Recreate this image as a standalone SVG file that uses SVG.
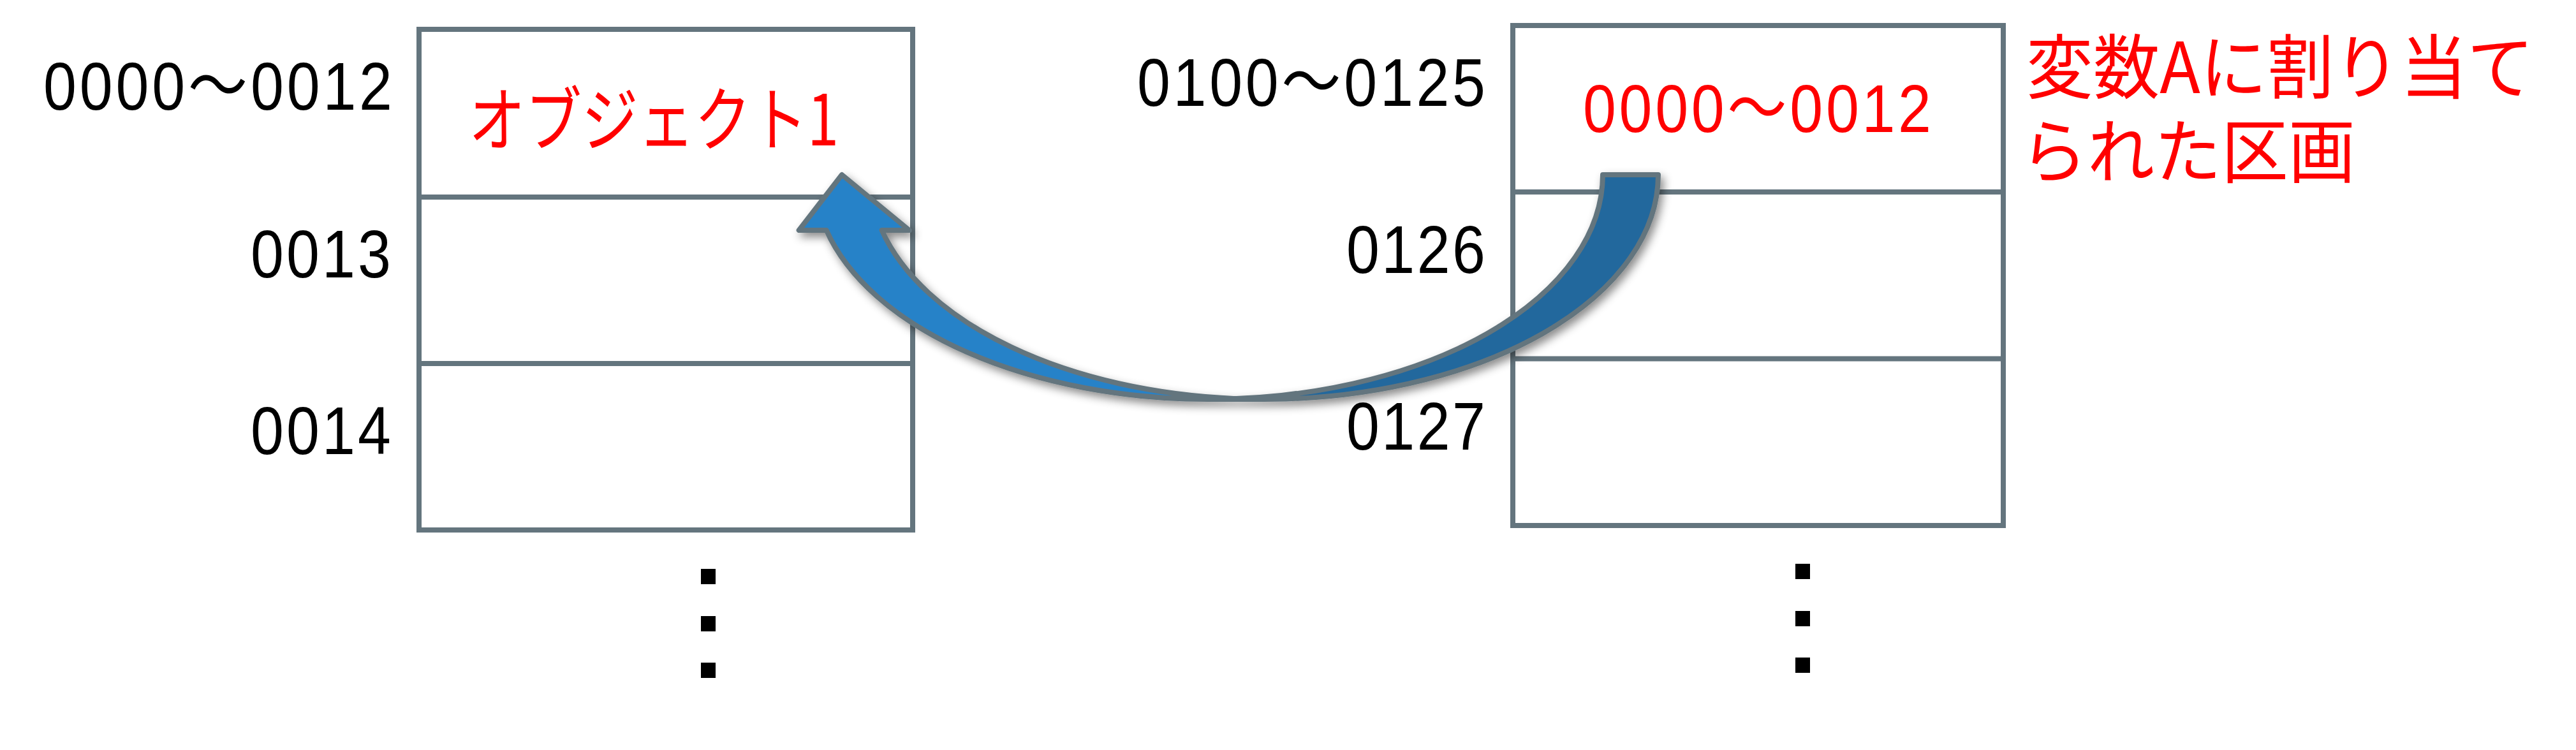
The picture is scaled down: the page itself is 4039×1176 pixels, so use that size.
<svg xmlns="http://www.w3.org/2000/svg" width="4039" height="1176" viewBox="0 0 4039 1176">
<defs>
<style>
.box{fill:#ffffff;stroke:#64757e;stroke-width:8}
.div{stroke:#64757e;stroke-width:8}
.lbl{font-family:"Liberation Sans","Noto Sans CJK JP",sans-serif;font-size:106px;fill:#000000}
.redlbl{font-family:"Liberation Sans","Noto Sans CJK JP",sans-serif;font-size:106px;fill:#ff0000}
.jp{font-family:"Noto Sans CJK JP","Liberation Sans",sans-serif;font-size:110px;fill:#ff0000}
.dot{fill:#000000}
.light{fill:#2882c8;stroke:none}
.dark{fill:#21679d;stroke:none}
.outline{fill:none;stroke:#64757e;stroke-width:8;stroke-linejoin:round;stroke-linecap:round}
</style>
<filter id="shadow" x="-10%" y="-10%" width="125%" height="135%">
<feDropShadow dx="5" dy="7" stdDeviation="7" flood-color="#000000" flood-opacity="0.45"/>
</filter>
</defs>
<rect width="4039" height="1176" fill="#ffffff"/>

<g id="memory-left">
<rect class="box" x="657" y="46" width="774" height="785"/>
<line class="div" x1="657" y1="309" x2="1431" y2="309"/>
<line class="div" x1="657" y1="570" x2="1431" y2="570"/>
<text class="lbl" transform="scale(0.88 1)" x="77.27" y="172" textLength="621.59" lengthAdjust="spacing">0000～0012</text>
<text class="lbl" transform="scale(0.88 1)" x="446.59" y="435" textLength="250" lengthAdjust="spacing">0013</text>
<text class="lbl" transform="scale(0.88 1)" x="446.59" y="712" textLength="250" lengthAdjust="spacing">0014</text>
<text class="jp" x="735" y="228" textLength="580" lengthAdjust="spacingAndGlyphs">オブジェクト1</text>
<rect class="dot" x="1099" y="892" width="23" height="24"/>
<rect class="dot" x="1099" y="966" width="23" height="24"/>
<rect class="dot" x="1099" y="1039" width="23" height="24"/>
</g>

<g id="memory-right">
<rect class="box" x="2372" y="40" width="769" height="784"/>
<line class="div" x1="2372" y1="301" x2="3141" y2="301"/>
<line class="div" x1="2372" y1="562.5" x2="3141" y2="562.5"/>
<text class="lbl" transform="scale(0.88 1)" x="2026.14" y="166" textLength="620.45" lengthAdjust="spacing">0100～0125</text>
<text class="lbl" transform="scale(0.88 1)" x="2398.86" y="428" textLength="247.73" lengthAdjust="spacing">0126</text>
<text class="lbl" transform="scale(0.88 1)" x="2398.86" y="705" textLength="247.73" lengthAdjust="spacing">0127</text>
<text class="redlbl" transform="scale(0.88 1)" x="2820.45" y="207" textLength="620.45" lengthAdjust="spacing">0000～0012</text>
<rect class="dot" x="2815" y="884" width="23" height="24"/>
<rect class="dot" x="2815" y="958" width="23" height="24"/>
<rect class="dot" x="2815" y="1031" width="23" height="24"/>
</g>

<g id="annotation">
<text class="jp"><tspan x="3177" y="146" textLength="796" lengthAdjust="spacingAndGlyphs">変数Aに割り当て</tspan><tspan x="3168" y="278" textLength="525" lengthAdjust="spacingAndGlyphs">られた区画</tspan></text>
</g>

<g id="connectors">
<g id="arrow-reference" filter="url(#shadow)">
<path class="dark" d="M 1981.75 626 A 618.25 352 0 0 0 2600 274 L 2513 274 A 618.25 352 0 0 1 1894.75 626 Z"/>
<path class="light" d="M 1320 274 L 1252.68 361 L 1295.68 361 A 618.25 352 0 0 0 1938.25 625.13 A 618.25 352 0 0 1 1382.68 361 L 1425.68 361 Z"/>
<path class="outline" d="M 1938.25 625.13 A 618.25 352 0 0 1 1382.68 361 L 1425.68 361 L 1320 274 L 1252.68 361 L 1295.68 361 A 618.25 352 0 0 0 1894.75 626 L 1981.75 626 A 618.25 352 0 0 0 2600 274 L 2513 274 A 618.25 352 0 0 1 1894.75 626"/>
</g>
</g>
</svg>
